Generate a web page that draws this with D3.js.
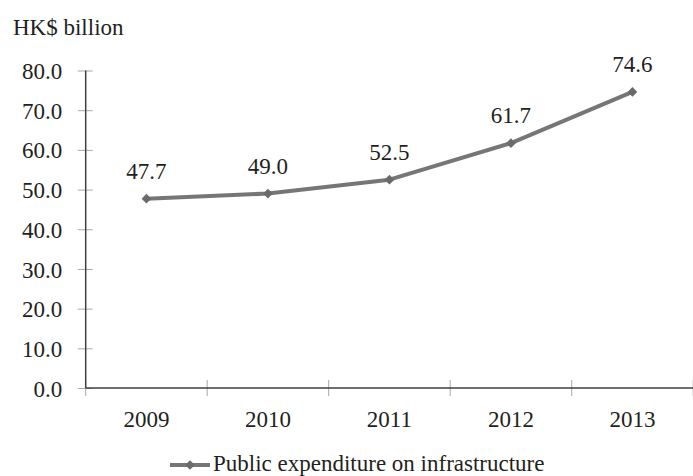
<!DOCTYPE html>
<html>
<head>
<meta charset="utf-8">
<script src="https://cdn.jsdelivr.net/npm/d3@7/dist/d3.min.js"></script>
</head>
<body style="margin:0; background:#fff">
<svg id="chart" width="693" height="476" font-family="Liberation Serif"></svg>
<script>
// Public expenditure on infrastructure, HK$ billion
const years = ["2009", "2010", "2011", "2012", "2013"];
const expenditure = [47.7, 49.0, 52.5, 61.7, 74.6];
const yTicks = [0, 10, 20, 30, 40, 50, 60, 70, 80];
const unitLabel = "HK$ billion";
const seriesName = "Public expenditure on infrastructure";

const svg = d3.select("#chart");
const FONT = 23;
const textColor = "#231f20";
const lineColor = "#767676";
const markColor = "#6a6a6a";
const axisColor = "#404040";
const tickColor = "#a8a8a8";

const x = d3.scaleBand().domain(years).range([85.7, 693.2]).padding(0);
const y = d3.scaleLinear().domain([0, 80]).range([388, 70.5]);

function styleText(sel) {
  return sel.attr("font-family", "Liberation Serif")
    .attr("font-size", FONT)
    .attr("fill", textColor);
}

// unit label
svg.append("text")
  .attr("x", 13).attr("y", 35)
  .call(styleText)
  .text(unitLabel);

// y axis
const yAxis = svg.append("g")
  .attr("transform", `translate(${x.range()[0]},0)`)
  .call(d3.axisLeft(y).tickValues(yTicks).tickSize(8)
    .tickFormat(d3.format(".1f")));
yAxis.attr("font-family", "Liberation Serif");
yAxis.select(".domain").remove();
yAxis.selectAll(".tick line").attr("x2", -8).attr("x1", 7)
  .attr("stroke", tickColor).attr("stroke-width", 1);
yAxis.selectAll(".tick text")
  .call(styleText)
  .attr("x", -23.5).attr("dy", "0.35em");

// x axis: labels centred on bands, ticks on band boundaries
const xAxis = svg.append("g")
  .attr("transform", `translate(0,${y(0)})`)
  .call(d3.axisBottom(x).tickSize(0).tickPadding(23));
xAxis.attr("font-family", "Liberation Serif");
xAxis.select(".domain").remove();
xAxis.selectAll(".tick text").call(styleText);

const boundaries = years.map(d => x(d)).concat([x.range()[1]]);
svg.append("g").selectAll("line")
  .data(boundaries)
  .join("line")
  .attr("x1", d => d).attr("x2", d => d)
  .attr("y1", y(0) - 8).attr("y2", y(0) + 8)
  .attr("stroke", tickColor).attr("stroke-width", 1);

// axis lines
svg.append("line")
  .attr("x1", x.range()[0]).attr("x2", x.range()[0])
  .attr("y1", y(80)).attr("y2", y(0))
  .attr("stroke", axisColor).attr("stroke-width", 1.5);
svg.append("line")
  .attr("x1", x.range()[0]).attr("x2", x.range()[1])
  .attr("y1", y(0)).attr("y2", y(0))
  .attr("stroke", axisColor).attr("stroke-width", 1.5);

// series line
const cx = d => x(d) + x.bandwidth() / 2;
const pts = years.map((yr, i) => ({ yr, v: expenditure[i] }));

svg.append("path")
  .datum(pts)
  .attr("fill", "none")
  .attr("stroke", lineColor)
  .attr("stroke-width", 4)
  .attr("stroke-linejoin", "round")
  .attr("d", d3.line().x(d => cx(d.yr)).y(d => y(d.v)));

const diamond = d3.symbol().type(d3.symbolDiamond2).size(60);
svg.append("g").selectAll("path")
  .data(pts)
  .join("path")
  .attr("transform", d => `translate(${cx(d.yr)},${y(d.v)})`)
  .attr("d", diamond)
  .attr("fill", markColor);

// value labels
svg.append("g").selectAll("text")
  .data(pts)
  .join("text")
  .attr("x", d => cx(d.yr))
  .attr("y", d => y(d.v) - 20)
  .attr("text-anchor", "middle")
  .call(styleText)
  .text(d => d.v.toFixed(1));

// legend
const lg = svg.append("g").attr("transform", "translate(170,465)");
lg.append("line").attr("x1", 0).attr("x2", 40).attr("y1", 0).attr("y2", 0)
  .attr("stroke", lineColor).attr("stroke-width", 4);
lg.append("path").attr("transform", "translate(20,0)").attr("d", diamond)
  .attr("fill", markColor);
lg.append("text").attr("x", 43).attr("y", 6)
  .call(styleText)
  .text(seriesName);
</script>
</body>
</html>
